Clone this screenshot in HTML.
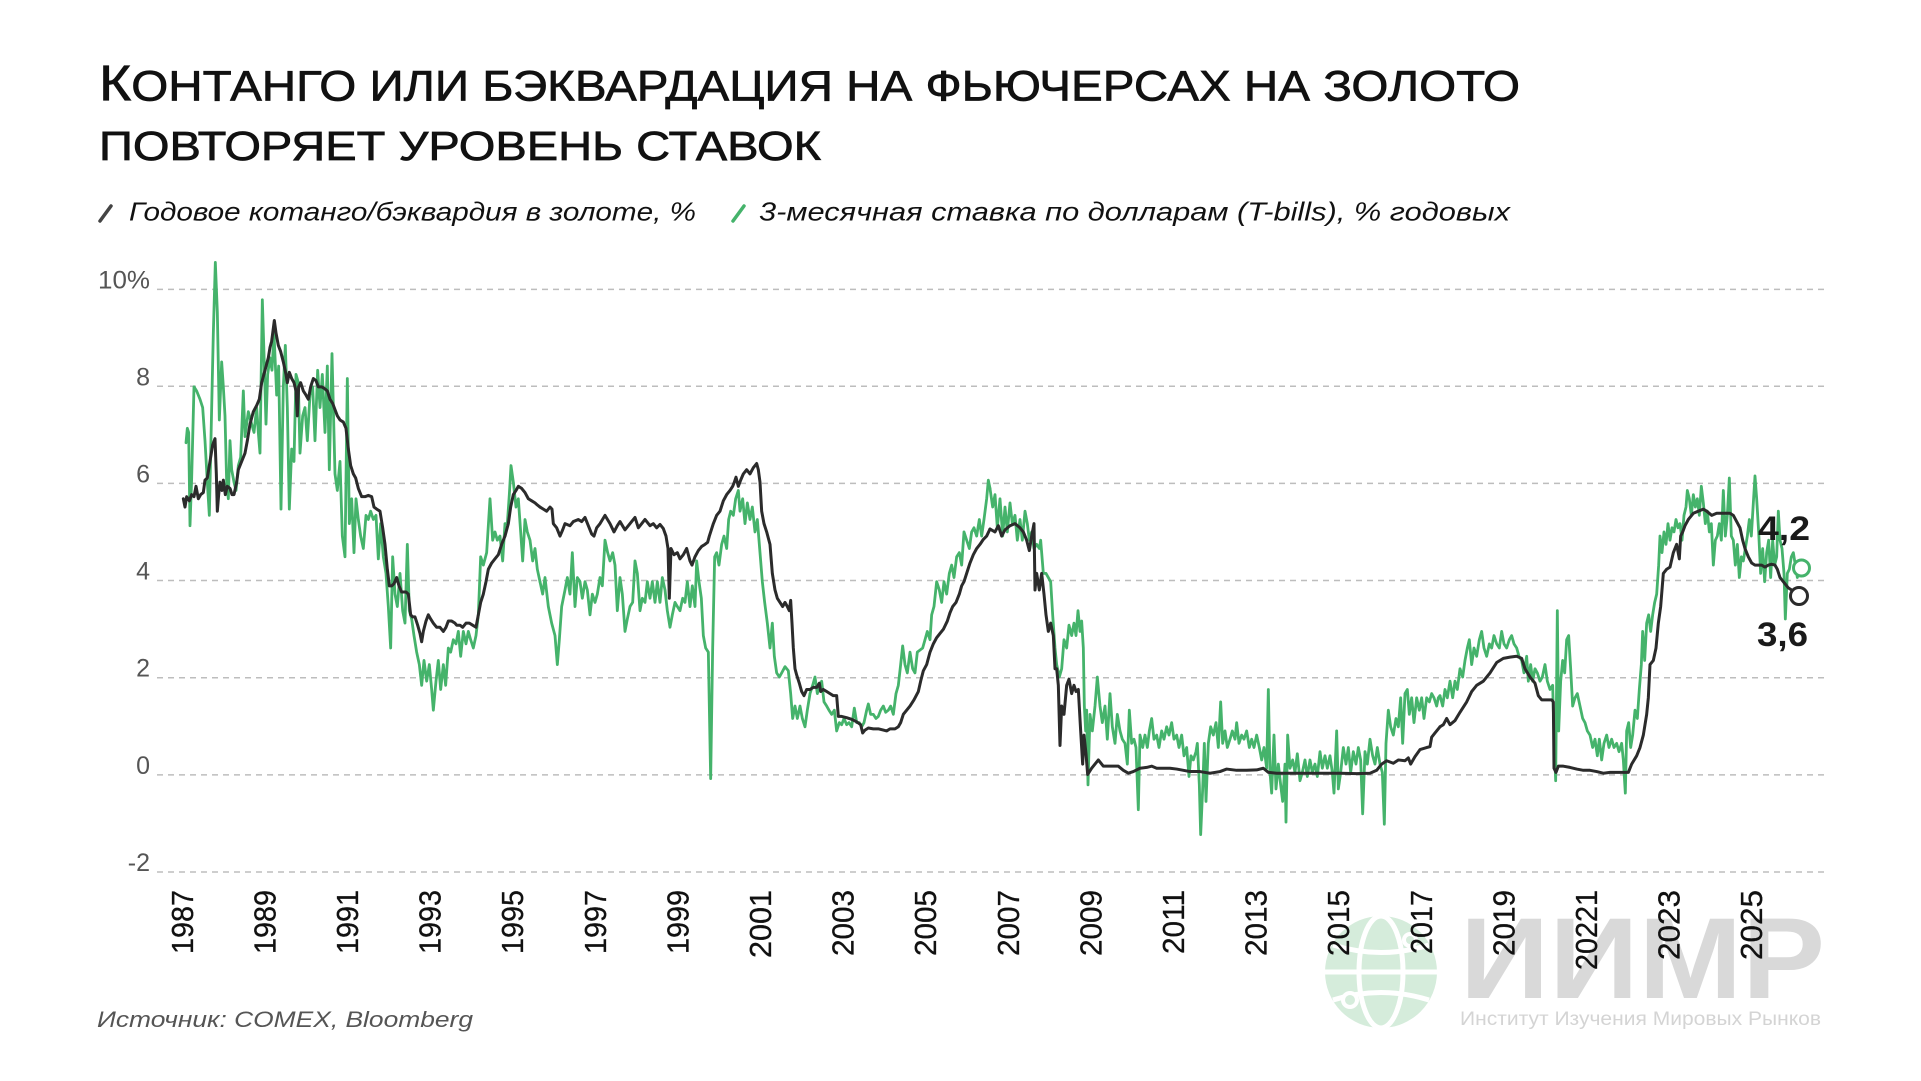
<!DOCTYPE html>
<html><head><meta charset="utf-8"><style>
html,body{margin:0;padding:0;background:#fff;}
svg{display:block;}
</style></head><body>
<svg width="1921" height="1081" viewBox="0 0 1921 1081" xmlns="http://www.w3.org/2000/svg" font-family="Liberation Sans, Noto Sans CJK SC, sans-serif">
<rect width="1921" height="1081" fill="#fff"/>
<!-- Title -->
<text x="99" y="100.5" font-size="43" fill="#111" stroke="#111" stroke-width="0.7" textLength="1421" lengthAdjust="spacingAndGlyphs"><tspan font-size="50">К</tspan>ОНТАНГО ИЛИ БЭКВАРДАЦИЯ НА ФЬЮЧЕРСАХ НА ЗОЛОТО</text>
<text x="99" y="160" font-size="41" fill="#111" stroke="#111" stroke-width="0.7" textLength="722" lengthAdjust="spacingAndGlyphs">ПОВТОРЯЕТ УРОВЕНЬ СТАВОК</text>
<!-- Legend -->
<line x1="100" y1="221" x2="111" y2="206" stroke="#444" stroke-width="3.5" stroke-linecap="round"/>
<text x="129" y="220.5" font-size="26" font-style="italic" fill="#111" textLength="567" lengthAdjust="spacingAndGlyphs">Годовое котанго/бэквардия в золоте, %</text>
<line x1="733" y1="221" x2="744" y2="206" stroke="#45b36b" stroke-width="3.5" stroke-linecap="round"/>
<text x="759" y="220.5" font-size="26" font-style="italic" fill="#111" textLength="751" lengthAdjust="spacingAndGlyphs">3-месячная ставка по долларам (T-bills), % годовых</text>

<!-- Logo -->
<g>
<circle cx="1381" cy="972" r="56" fill="#d5ecdb"/>
<g fill="none" stroke="#fff" stroke-width="5">
<ellipse cx="1381" cy="972" rx="22" ry="56"/>
<line x1="1325" y1="972" x2="1437" y2="972"/>
<path d="M1333 945 Q1381 960 1429 945"/>
<path d="M1333 1000 Q1381 985 1429 1000"/>
</g>
<circle cx="1350" cy="1000" r="9" fill="#fff"/><circle cx="1350" cy="1000" r="5" fill="#d5ecdb"/>
<circle cx="1410" cy="940" r="8" fill="#fff"/><circle cx="1410" cy="940" r="4" fill="#d5ecdb"/>
<text x="1460" y="998" font-size="115" font-weight="bold" fill="#d9d9d9" textLength="365" lengthAdjust="spacingAndGlyphs">ИИМР</text>
<text x="1460" y="1025" font-size="19" fill="#d4d4d4" textLength="361" lengthAdjust="spacingAndGlyphs">Институт Изучения Мировых Рынков</text>
</g>

<!-- Gridlines -->
<g stroke="#bdbdbd" stroke-width="1.5" stroke-dasharray="6 5">
<line x1="157" y1="289.4" x2="1827" y2="289.4"/>
<line x1="157" y1="386.2" x2="1827" y2="386.2"/>
<line x1="157" y1="483.4" x2="1827" y2="483.4"/>
<line x1="157" y1="580.5" x2="1827" y2="580.5"/>
<line x1="157" y1="677.8" x2="1827" y2="677.8"/>
<line x1="157" y1="774.9" x2="1827" y2="774.9"/>
<line x1="157" y1="872" x2="1827" y2="872"/>
</g>
<g font-size="25" fill="#555" text-anchor="end">
<text x="150" y="288.5" textLength="52" lengthAdjust="spacingAndGlyphs">10%</text>
<text x="150" y="385.5">8</text>
<text x="150" y="482.5">6</text>
<text x="150" y="579.5">4</text>
<text x="150" y="676.5">2</text>
<text x="150" y="774">0</text>
<text x="150" y="871">-2</text>
</g>

<!-- Year labels -->
<g font-size="31" fill="#111" stroke="#111" stroke-width="0.3" text-anchor="end">
<text transform="translate(193,890) rotate(-90)" textLength="64" lengthAdjust="spacingAndGlyphs">1987</text>
<text transform="translate(275.4,890) rotate(-90)" textLength="64" lengthAdjust="spacingAndGlyphs">1989</text>
<text transform="translate(358,890) rotate(-90)" textLength="64" lengthAdjust="spacingAndGlyphs">1991</text>
<text transform="translate(440.6,890) rotate(-90)" textLength="64" lengthAdjust="spacingAndGlyphs">1993</text>
<text transform="translate(523.2,890) rotate(-90)" textLength="64" lengthAdjust="spacingAndGlyphs">1995</text>
<text transform="translate(605.8,890) rotate(-90)" textLength="64" lengthAdjust="spacingAndGlyphs">1997</text>
<text transform="translate(688.4,890) rotate(-90)" textLength="64" lengthAdjust="spacingAndGlyphs">1999</text>
<text transform="translate(771,890) rotate(-90)" textLength="68" lengthAdjust="spacingAndGlyphs">2001</text>
<text transform="translate(853.6,890) rotate(-90)" textLength="66" lengthAdjust="spacingAndGlyphs">2003</text>
<text transform="translate(936.2,890) rotate(-90)" textLength="66" lengthAdjust="spacingAndGlyphs">2005</text>
<text transform="translate(1018.8,890) rotate(-90)" textLength="66" lengthAdjust="spacingAndGlyphs">2007</text>
<text transform="translate(1101.4,890) rotate(-90)" textLength="66" lengthAdjust="spacingAndGlyphs">2009</text>
<text transform="translate(1184,890) rotate(-90)" textLength="64" lengthAdjust="spacingAndGlyphs">2011</text>
<text transform="translate(1266.6,890) rotate(-90)" textLength="66" lengthAdjust="spacingAndGlyphs">2013</text>
<text transform="translate(1349.2,890) rotate(-90)" textLength="66" lengthAdjust="spacingAndGlyphs">2015</text>
<text transform="translate(1431.8,890) rotate(-90)" textLength="64" lengthAdjust="spacingAndGlyphs">2017</text>
<text transform="translate(1514.4,890) rotate(-90)" textLength="66" lengthAdjust="spacingAndGlyphs">2019</text>
<text transform="translate(1597,890) rotate(-90)" textLength="80" lengthAdjust="spacingAndGlyphs">20221</text>
<text transform="translate(1679.6,890) rotate(-90)" textLength="70" lengthAdjust="spacingAndGlyphs">2023</text>
<text transform="translate(1762.2,890) rotate(-90)" textLength="70" lengthAdjust="spacingAndGlyphs">2025</text>
</g>

<!-- Source -->
<text x="97" y="1027" font-size="22" font-style="italic" fill="#555" textLength="376" lengthAdjust="spacingAndGlyphs">Источник: COMEX, Bloomberg</text>

<!-- Series -->
<g fill="none" stroke-linejoin="round" stroke-linecap="round">
<!-- green -->
<g stroke="#45b36b" stroke-width="2.8">
<polyline vector-effect="non-scaling-stroke" transform="translate(90,250) scale(0.33333,0.41459)" points="288,465 292,430 296,440 300,665 305,550 312,330 320,340 330,360 338,380 345,460 352,560 358,640 365,380 370,200 376,30 382,150 388,410 395,270 400,330 405,400 410,560 415,600 420,460 425,530 432,560 438,580 445,520 452,500 460,340 465,450 470,420 475,390 485,420 492,440 500,380 505,440 510,490 517,120 522,250 528,420 533,300 540,260 546,290 552,200 560,350 566,280 573,625 580,330 586,230 592,380 598,625 605,480 612,510 618,300 625,320 630,490 638,400 645,380 652,460 660,350 668,330 675,460 683,290 690,380 697,300 705,440 712,280 718,530 726,250 735,540 742,580 750,510 757,690 765,740 772,310 778,660 785,600 792,730 798,600 805,650 812,690 820,720 828,640 835,650 842,630 850,650 858,640 865,745 872,660 880,740 888,780 895,860 902,960 908,740 915,830 922,860 930,780 938,870 945,900 952,710 958,870 965,890 972,930 980,970 988,1000 995,1050 1002,990 1010,1040 1018,1000 1025,1060 1030,1110 1038,1040 1045,990 1052,1060 1060,1000 1067,1050 1075,960 1082,970 1090,940 1098,950 1105,920 1112,980 1120,920 1128,950 1135,920 1142,940 1150,960 1158,930 1165,880 1172,740 1180,760 1190,730 1200,600 1208,700 1215,680 1222,700 1230,690 1238,750 1245,660 1252,660 1258,590 1263,520 1270,560 1278,620 1285,600 1292,680 1298,750 1305,650 1312,680 1320,700 1328,750 1335,720 1342,770 1350,800"/>
<polyline vector-effect="non-scaling-stroke" transform="translate(540,250) scale(0.33333,0.41459)" points="0,800 8,830 15,790 25,860 35,900 45,930 52,1000 58,940 65,860 75,820 82,790 90,830 97,730 105,860 112,790 120,800 127,840 135,800 142,820 150,880 157,830 165,850 172,830 180,790 187,810 195,700 203,730 210,750 218,730 225,760 232,870 240,790 247,830 255,920 262,890 270,860 278,850 285,750 292,780 300,870 307,840 315,850 322,800 330,840 337,800 345,850 352,800 360,850 367,790 375,820 382,870 390,910 397,880 405,850 412,860 420,870 428,840 435,850 442,800 450,860 457,810 465,860 470,750 477,800 484,840 490,930 497,960 505,970 512,1275 518,960 524,740 530,730 537,760 545,710 552,690 560,720 566,650 572,630 580,640 587,600 595,580 600,630 608,600 615,660 622,610 630,650 637,620 645,680 652,650 660,730 667,800 674,850 682,900 690,960 697,900 703,980 710,1020 718,1030 725,1020 735,1005 745,1015 752,1070 758,1130 765,1100 772,1130 780,1100 787,1130 795,1150 802,1110 810,1070 818,1050 825,1030 832,1070 838,1050 845,1040 852,1090 860,1100 867,1110 875,1120 883,1110 890,1160 898,1140 905,1145 912,1130 920,1145 927,1140 935,1150 943,1105 950,1140 958,1140 965,1150 972,1140 980,1110 985,1095 992,1120 1000,1120 1008,1130 1015,1125 1022,1110 1030,1100 1037,1115 1045,1110 1052,1100 1060,1120 1068,1070 1075,1050 1082,1000 1088,955 1095,1000 1102,1020 1110,970 1118,1010 1125,1020 1132,970 1140,965 1148,960 1155,940 1162,920 1170,940 1175,880 1182,860 1190,800 1198,820 1205,850 1212,800 1220,830 1228,780 1235,760 1242,790 1250,740 1258,730 1265,760 1272,680 1280,700 1288,720 1295,680 1302,670 1310,690 1318,650 1325,690 1332,650 1340,600 1345,555 1350,575"/>
<polyline vector-effect="non-scaling-stroke" transform="translate(990,250) scale(0.33333,0.41459)" points="0,575 8,620 15,590 22,670 30,600 38,690 45,620 52,680 60,610 67,660 75,640 82,700 90,650 97,700 105,630 112,660 118,700 125,680 132,720 140,710 148,720 152,700 160,780 168,780 175,790 182,800 188,880 195,960 200,1000 208,1030 215,1010 222,940 230,960 237,905 245,930 252,900 258,930 264,870 270,920 275,895 280,960 283,1100 287,1160 290,1110 294,1290 300,1120 307,1160 315,1100 322,1030 330,1100 337,1140 345,1100 352,1180 360,1070 367,1150 375,1190 382,1120 390,1160 397,1180 405,1190 412,1240 418,1110 425,1190 432,1180 438,1200 445,1350 450,1170 458,1200 465,1170 472,1200 478,1160 485,1130 492,1180 500,1170 507,1200 515,1160 522,1180 530,1150 537,1170 545,1140 552,1180 560,1170 567,1200 575,1170 582,1220 590,1200 597,1270 603,1220 610,1230 618,1210 622,1190 628,1290 632,1410 638,1300 643,1190 648,1330 655,1190 662,1150 670,1170 678,1140 685,1200 692,1090 698,1190 705,1160 712,1200 720,1180 727,1160 735,1180 740,1140 747,1190 755,1170 762,1180 770,1160 778,1200 785,1180 792,1200 800,1170 808,1200 815,1230 822,1200 830,1250 835,1060 840,1260 845,1310 852,1170 858,1300 865,1240 872,1290 878,1330 885,1240 888,1380 893,1170 900,1250 908,1230 915,1260 922,1215 930,1280 937,1260 945,1230 952,1270 960,1230 967,1260 975,1240 982,1270 990,1210 997,1250 1005,1220 1012,1250 1020,1220 1027,1260 1032,1310 1040,1160 1045,1300 1052,1260 1060,1200 1068,1240 1075,1200 1082,1260 1090,1210 1098,1240 1105,1200 1112,1230 1118,1360 1125,1210 1132,1240 1140,1180 1148,1220 1155,1240 1162,1200 1170,1240 1177,1260 1183,1385 1188,1190 1195,1110 1202,1150 1210,1170 1218,1130 1225,1150 1232,1080 1238,1190 1245,1070 1252,1060 1258,1120 1265,1080 1272,1140 1280,1080 1288,1110 1295,1080 1302,1130 1310,1080 1318,1090 1325,1070 1332,1080 1340,1100 1345,1080 1350,1075"/>
<polyline vector-effect="non-scaling-stroke" transform="translate(1440,250) scale(0.33333,0.41459)" points="0,1075 8,1100 15,1060 22,1080 30,1040 38,1080 45,1040 52,1060 60,1010 68,1030 75,990 82,960 88,940 95,1000 102,960 110,980 118,940 125,920 132,960 140,980 148,950 155,960 162,930 170,950 178,960 185,920 192,950 200,960 208,940 215,930 222,950 230,960 237,980 245,990 252,1020 260,980 265,1040 272,1000 278,1040 285,1010 292,1020 300,1040 307,1030 315,1000 322,1040 330,1060 338,1050 342,1170 347,1280 352,870 356,1160 362,1040 368,990 374,1020 380,940 386,930 392,1010 398,1100 405,1080 412,1070 420,1100 428,1130 435,1140 442,1160 450,1170 458,1200 465,1180 472,1220 478,1180 485,1230 492,1190 500,1170 507,1200 515,1180 522,1200 530,1190 537,1210 545,1190 550,1230 556,1310 560,1160 566,1140 572,1200 578,1170 585,1110 592,1130 598,1060 604,1000 608,920 614,990 620,900 626,880 632,920 638,880 644,850 650,830 656,760 660,690 666,730 672,680 678,710 684,660 690,700 696,670 702,680 708,650 714,670 720,660 726,700 732,640 738,620 742,580 748,600 754,640 760,590 766,620 772,600 778,640 784,570 790,610 796,660 802,630 808,680 814,660 820,760 826,700 832,690 838,660 844,700 850,580 856,690 862,640 868,550 874,690 880,700 886,760 892,710 898,790 904,740 910,750 916,720 922,690 928,650 934,690 940,610 945,545 950,600 956,680 962,780 968,720 974,800 980,730 986,700 992,790 998,700 1004,760 1010,740 1015,630 1020,700 1026,720 1032,780 1036,890 1042,780 1048,770 1054,740 1060,730 1066,760 1072,790 1078,770"/>
</g>
<!-- black -->
<g stroke="#2b2b2b" stroke-width="3">
<polyline vector-effect="non-scaling-stroke" transform="translate(90,250) scale(0.33333,0.41459)" points="280,600 285,620 290,595 298,605 305,590 312,595 318,570 325,600 332,590 340,585 345,555 352,550 360,510 368,470 375,455 379,540 382,630 386,590 390,560 396,580 400,555 406,590 412,570 420,575 426,590 432,590 440,560 445,530 455,510 465,490 472,460 480,420 490,390 500,375 508,360 515,320 525,290 535,260 540,235 545,220 553,170 558,200 565,230 572,245 580,270 588,300 592,320 598,295 605,310 612,320 618,340 622,400 626,330 632,320 640,340 648,350 655,360 662,330 670,310 678,315 685,330 695,330 705,335 712,340 720,360 728,370 735,385 742,400 750,410 760,415 768,430 775,480 782,520 790,540 797,550 805,575 815,595 825,595 835,592 845,595 852,620 860,625 870,630 878,670 885,710 892,770 898,810 905,810 912,805 920,790 927,810 935,825 948,825 955,830 962,880 968,885 975,885 983,905 990,925 995,945 1000,920 1008,895 1015,880 1022,890 1030,900 1040,910 1050,910 1060,920 1068,910 1075,895 1085,895 1095,900 1100,905 1110,905 1118,910 1128,900 1138,900 1148,905 1158,910 1165,880 1172,850 1180,830 1188,800 1195,770 1205,755 1215,745 1225,735 1235,710 1245,690 1255,660 1262,620 1270,590 1278,580 1285,570 1295,575 1305,585 1315,600 1325,605 1335,610 1342,615 1350,620"/>
<polyline vector-effect="non-scaling-stroke" transform="translate(540,250) scale(0.33333,0.41459)" points="0,620 10,625 20,630 30,620 36,625 40,660 50,670 60,690 68,675 75,660 90,665 100,655 115,650 125,655 135,645 145,665 155,685 162,690 170,670 180,660 195,640 210,660 222,680 232,665 240,655 255,675 265,665 275,655 285,645 295,670 305,660 315,650 330,665 340,660 350,670 360,662 370,672 378,690 384,720 388,840 393,720 402,735 412,730 420,745 430,735 440,720 450,750 456,760 465,740 475,725 485,715 495,710 503,705 508,690 512,680 520,660 530,640 540,630 550,605 560,590 570,580 578,570 583,560 588,548 595,570 602,555 610,540 620,530 630,540 640,525 650,515 655,530 660,560 665,630 672,660 680,680 690,710 697,780 705,820 712,840 720,850 728,860 735,850 742,860 748,870 752,845 756,900 760,960 765,1010 770,1025 778,1045 785,1065 792,1075 800,1060 810,1060 820,1055 830,1055 838,1045 842,1065 850,1060 860,1065 870,1070 880,1075 890,1075 895,1125 905,1125 920,1128 935,1132 950,1138 962,1145 968,1165 975,1158 985,1153 1000,1155 1015,1155 1030,1158 1040,1160 1050,1155 1065,1155 1075,1150 1082,1140 1090,1120 1100,1110 1110,1100 1122,1085 1135,1065 1142,1040 1150,1015 1160,1000 1170,970 1180,950 1190,935 1200,925 1210,915 1222,895 1230,875 1238,860 1248,850 1258,830 1265,810 1272,800 1280,780 1290,755 1300,735 1310,720 1320,710 1330,698 1340,690 1350,673"/>
<polyline vector-effect="non-scaling-stroke" transform="translate(990,250) scale(0.33333,0.41459)" points="0,673 15,680 25,665 35,690 45,675 60,665 75,660 90,670 100,680 110,700 118,725 125,690 132,660 135,820 140,780 148,820 155,780 162,830 168,880 175,920 182,900 190,930 195,1010 200,1010 205,1050 210,1195 215,1100 222,1120 230,1050 237,1035 245,1070 252,1050 258,1065 265,1060 272,1160 278,1240 282,1170 288,1215 293,1265 305,1250 315,1240 325,1230 340,1245 360,1245 385,1245 400,1255 415,1262 430,1258 450,1250 470,1248 485,1245 500,1250 520,1250 540,1250 560,1252 580,1255 600,1258 630,1258 660,1262 690,1258 710,1252 740,1255 770,1255 800,1254 820,1250 835,1260 860,1262 900,1262 950,1262 1000,1262 1050,1262 1100,1263 1140,1262 1160,1255 1175,1240 1190,1232 1210,1238 1225,1230 1245,1232 1255,1225 1262,1240 1275,1222 1290,1205 1310,1200 1320,1198 1325,1175 1335,1165 1350,1150"/>
<polyline vector-effect="non-scaling-stroke" transform="translate(1440,250) scale(0.33333,0.41459)" points="0,1150 10,1145 20,1130 30,1145 45,1135 60,1115 80,1090 95,1065 110,1050 130,1040 150,1020 170,995 190,985 210,982 230,980 245,985 255,1010 270,1030 285,1045 295,1075 305,1085 320,1085 335,1085 340,1090 342,1250 348,1260 355,1245 370,1245 390,1248 410,1252 430,1255 450,1255 470,1258 490,1262 510,1260 530,1260 550,1260 565,1260 575,1240 590,1220 600,1200 610,1170 620,1120 625,1080 630,1000 640,990 648,960 655,900 662,860 670,780 680,770 690,765 700,730 710,710 718,745 722,690 728,680 735,665 745,650 760,635 775,630 790,625 800,630 815,640 830,635 850,635 870,635 880,640 890,655 900,670 908,700 915,720 925,740 935,755 945,760 955,760 965,760 975,765 985,760 995,758 1005,760 1012,770 1020,790 1030,800 1045,815 1055,820 1070,830"/>
</g>
</g>

<!-- End markers -->
<circle cx="1801.5" cy="568" r="8" fill="#fff" stroke="#45b36b" stroke-width="3"/>
<circle cx="1799" cy="596" r="8.5" fill="#fff" stroke="#2b2b2b" stroke-width="3"/>
<text x="1758" y="540" font-size="34" font-weight="bold" fill="#1a1a1a" textLength="52" lengthAdjust="spacingAndGlyphs">4,2</text>
<text x="1757" y="646" font-size="34" font-weight="bold" fill="#1a1a1a" textLength="51" lengthAdjust="spacingAndGlyphs">3,6</text>
</svg>
</body></html>
